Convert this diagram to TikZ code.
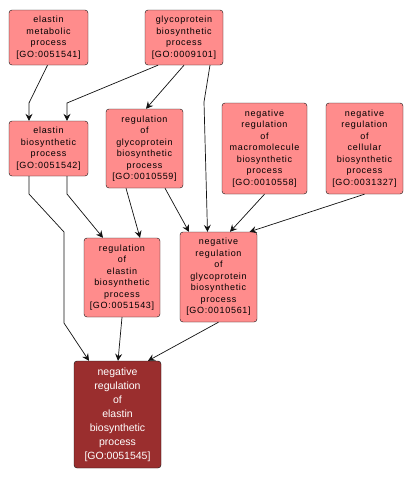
\documentclass[tikz,border=0pt]{standalone}
\usepackage{fontspec}
\setmainfont{Liberation Sans}
\newfontfamily\gofont[LetterSpace=8]{Liberation Sans}
\usetikzlibrary{arrows.meta,positioning,calc}
\definecolor{goLight}{HTML}{FF8C8C}
\definecolor{goDark}{HTML}{9A2E2E}
\definecolor{goInk}{HTML}{111111}
\tikzset{
  term/.style={draw=goInk, fill=goLight, rounded corners=3pt, inner sep=0pt, align=center, font=\gofont\fontsize{9}{11.5}\selectfont},
  termQ/.style={term, fill=goDark, text=white, font=\fontsize{10.5}{14}\selectfont},
  arr/.style={-{Stealth[length=7pt,width=7pt,inset=2.5pt]}, draw=goInk, line width=0.7pt},
}
\begin{document}
\begin{tikzpicture}[x=1pt,y=-1pt]
  \useasboundingbox (0,0) rectangle (414,480);
  % top row
  \node[term, minimum width=79pt, minimum height=55pt] (metab) at (48.5,37.5) {elastin\\metabolic\\process\\{[GO:0051541]}};
  \node[term, minimum width=78pt, minimum height=55pt] (glyco) at (184,37.5) {glycoprotein\\biosynthetic\\process\\{[GO:0009101]}};
  % second row
  \node[term, minimum width=79pt, minimum height=55pt] (elbio) at (48.5,148.5) {elastin\\biosynthetic\\process\\{[GO:0051542]}};
  \node[term, minimum width=77pt, minimum height=79pt] (reggly) at (144.5,148.5) {regulation\\of\\glycoprotein\\biosynthetic\\process\\{[GO:0010559]}};
  \node[term, minimum width=85pt, minimum height=91pt] (negmac) at (264.5,148.5) {negative\\regulation\\of\\macromolecule\\biosynthetic\\process\\{[GO:0010558]}};
  \node[term, minimum width=77pt, minimum height=91pt] (negcel) at (364.5,148.5) {negative\\regulation\\of\\cellular\\biosynthetic\\process\\{[GO:0031327]}};
  % third row
  \node[term, minimum width=76pt, minimum height=79pt] (regela) at (122,277.5) {regulation\\of\\elastin\\biosynthetic\\process\\{[GO:0051543]}};
  \node[term, minimum width=77pt, minimum height=90pt] (neggly) at (218.5,277) {negative\\regulation\\of\\glycoprotein\\biosynthetic\\process\\{[GO:0010561]}};
  % query term
  \node[termQ, minimum width=87pt, minimum height=107pt] (negela) at (117.5,414.5) {negative\\regulation\\of\\elastin\\biosynthetic\\process\\{[GO:0051545]}};

  \draw[arr] ([xshift=-1pt]metab.south) -- (29,103) -- ([xshift=-19.5pt]elbio.north);
  \draw[arr] ([xshift=-26pt]glyco.south) -- (67,103) -- ([xshift=18.5pt]elbio.north);
  \draw[arr] (glyco.south) -- ([xshift=1.5pt]reggly.north);
  \draw[arr] ([xshift=26pt]glyco.south) -- (204,102) -- ([xshift=-11pt]neggly.north);
  \draw[arr] ([xshift=18.5pt]elbio.south) -- (67,194) -- ([xshift=-19pt]regela.north);
  \draw[arr] ([xshift=-19.5pt]elbio.south) -- (29,194) -- (64,232) -- (64,323) -- ([xshift=-28.5pt]negela.north);
  \draw[arr] ([xshift=-18.5pt]reggly.south) -- ([xshift=18pt]regela.north);
  \draw[arr] ([xshift=20.5pt]reggly.south) -- ([xshift=-29.5pt]neggly.north);
  \draw[arr] (negmac.south) -- ([xshift=11.5pt]neggly.north);
  \draw[arr] (negcel.south) -- ([xshift=31pt]neggly.north);
  \draw[arr] (regela.south) -- ([xshift=0.5pt]negela.north);
  \draw[arr] (neggly.south) -- ([xshift=30.5pt]negela.north);
\end{tikzpicture}
\end{document}
